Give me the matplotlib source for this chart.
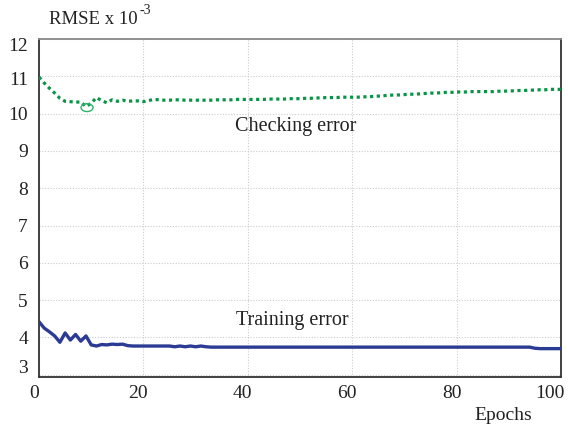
import matplotlib
matplotlib.use("Agg")
import matplotlib.pyplot as plt
from matplotlib.patches import Ellipse
from matplotlib.transforms import ScaledTranslation

plt.rcParams['font.family'] = ['Liberation Serif', 'DejaVu Serif']

epochs = list(range(0, 101))

checking_error = [
    10.98, 10.82, 10.68, 10.55, 10.41, 10.33, 10.32, 10.31, 10.31, 10.19,
    10.28, 10.43, 10.35, 10.29, 10.37, 10.33, 10.36, 10.33, 10.34, 10.34,
    10.32, 10.35, 10.38, 10.37, 10.36, 10.36, 10.37, 10.37, 10.36, 10.36,
    10.36, 10.36, 10.36, 10.36, 10.37, 10.37, 10.37, 10.37, 10.38, 10.38,
    10.38, 10.38, 10.38, 10.38, 10.39, 10.39, 10.39, 10.39, 10.40, 10.40,
    10.40, 10.41, 10.41, 10.42, 10.42, 10.43, 10.43, 10.43, 10.44, 10.44,
    10.44, 10.44, 10.45, 10.45, 10.46, 10.47, 10.48, 10.49, 10.50, 10.50,
    10.51, 10.52, 10.52, 10.53, 10.54, 10.55, 10.55, 10.56, 10.57, 10.57,
    10.58, 10.58, 10.58, 10.59, 10.59, 10.59, 10.59, 10.59, 10.60, 10.60,
    10.61, 10.61, 10.62, 10.62, 10.63, 10.63, 10.64, 10.64, 10.65, 10.65,
    10.65,
]

training_error = [
    4.42, 4.25, 4.15, 4.04, 3.87, 4.12, 3.93, 4.08, 3.90, 4.04,
    3.80, 3.77, 3.81, 3.80, 3.82, 3.81, 3.82, 3.78, 3.77, 3.77,
    3.77, 3.77, 3.77, 3.77, 3.77, 3.77, 3.75, 3.77, 3.75, 3.77,
    3.75, 3.77, 3.75, 3.74, 3.74, 3.74, 3.74, 3.74, 3.74, 3.74,
    3.74, 3.74, 3.74, 3.74, 3.74, 3.74, 3.74, 3.74, 3.74, 3.74,
    3.74, 3.74, 3.74, 3.74, 3.74, 3.74, 3.74, 3.74, 3.74, 3.74,
    3.74, 3.74, 3.74, 3.74, 3.74, 3.74, 3.74, 3.74, 3.74, 3.74,
    3.74, 3.74, 3.74, 3.74, 3.74, 3.74, 3.74, 3.74, 3.74, 3.74,
    3.74, 3.74, 3.74, 3.74, 3.74, 3.74, 3.74, 3.74, 3.74, 3.74,
    3.74, 3.74, 3.74, 3.74, 3.74, 3.71, 3.70, 3.70, 3.70, 3.70,
    3.70,
]

min_epoch = 9.2
min_value = 10.16

x_ticks = [0, 20, 40, 60, 80, 100]
y_ticks = [3, 4, 5, 6, 7, 8, 9, 10, 11, 12]

fig = plt.figure(figsize=(5.68, 4.30), dpi=100)
ax = fig.add_axes([0.0687, 0.1233, 0.919, 0.786])

green = '#0a9447'
blue = '#2b3a92'
text_color = '#222222'

ax.plot(epochs, checking_error, color=green, lw=2.3, linestyle=(0, (1, 1.1)),
        solid_capstyle='butt', dash_capstyle='butt', zorder=3)
ax.plot(epochs, training_error, color=blue, lw=2.4, zorder=3)

ax.add_patch(Ellipse((min_epoch, min_value), 2.3, 0.21, fill=False,
                     edgecolor='#2fb36a', lw=1.0, zorder=4))

ax.set_xlim(0, 100)
ax.set_ylim(2.94, 12)
ax.set_xticks(x_ticks)
ax.set_yticks(y_ticks)
ax.tick_params(length=0, labelsize=14, colors=text_color)
ax.tick_params(axis='x', pad=6)
ax.tick_params(axis='y', pad=8)

# small per-label nudges (in pixels) to mimic the reference placement
dpi = fig.dpi
for lab, tick in zip(ax.get_xticklabels(), x_ticks):
    dx = -11 if tick == 100 else -5
    lab.set_transform(lab.get_transform() + ScaledTranslation(dx / dpi, 0, fig.dpi_scale_trans))
for lab, tick in zip(ax.get_yticklabels(), y_ticks):
    dy = {12: -5, 11: -2, 3: 8}.get(tick, 0)
    lab.set_transform(lab.get_transform() + ScaledTranslation(0, dy / dpi, fig.dpi_scale_trans))

ax.grid(True, color='#cccccc', linestyle=(0, (1, 1.5)), lw=0.8)
ax.set_axisbelow(True)

for side in ['left', 'bottom', 'right']:
    ax.spines[side].set_color('#333333')
    ax.spines[side].set_linewidth(1.3)
ax.spines['top'].set_color('#888888')
ax.spines['top'].set_linewidth(1.3)

ylab = fig.text(49 / 568, 1 - 24 / 430, 'RMSE x 10', fontsize=13.5, color=text_color,
                ha='left', va='baseline')
fig.text(0, 0, '-3', fontsize=10, color=text_color, ha='left', va='baseline',
         transform=fig.transFigure)  # placeholder replaced below
fig.texts[-1].remove()
ax.annotate('-3', xy=(1, 0), xycoords=ylab, xytext=(1, 8), textcoords='offset points',
            fontsize=10, color=text_color, ha='left', va='bottom', annotation_clip=False)

ax.text(296 / 568, 1 - 126 / 430, 'Checking error', transform=fig.transFigure,
        fontsize=14.5, ha='center', va='center', color=text_color)
ax.text(292 / 568, 1 - 321 / 430, 'Training error', transform=fig.transFigure,
        fontsize=14.5, ha='center', va='center', color=text_color)
fig.text(503 / 568, 1 - 416 / 430, 'Epochs', fontsize=14, ha='center',
         va='center', color=text_color)

fig.savefig('out.png', dpi=100)
